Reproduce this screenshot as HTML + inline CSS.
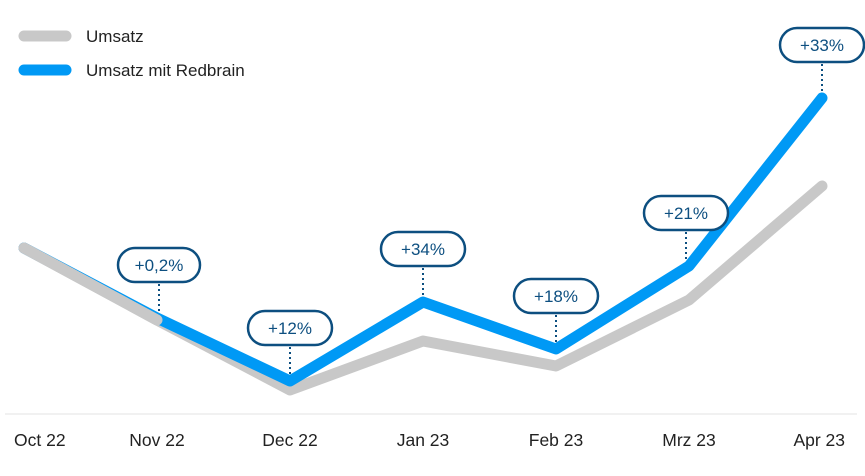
<!DOCTYPE html>
<html><head><meta charset="utf-8">
<style>
html,body{margin:0;padding:0;background:#fff;}
svg{display:block;font-family:"Liberation Sans",sans-serif;}
</style></head>
<body>
<svg id="chart" width="865" height="476" viewBox="0 0 865 476">
  <g>
    <g>
      <line x1="24" y1="36" x2="66" y2="36" stroke="#c8c8c8" stroke-width="11" stroke-linecap="round"/>
      <text x="86" y="42" font-size="17" fill="#222">Umsatz</text>
    </g>
    <g>
      <line x1="24" y1="70" x2="66" y2="70" stroke="#0099f5" stroke-width="11" stroke-linecap="round"/>
      <text x="86" y="76" font-size="17" fill="#222">Umsatz mit Redbrain</text>
    </g>
  </g>
  <line x1="5" y1="414" x2="857" y2="414" stroke="#e3e3e3" stroke-width="1"/>
  <g id="xlabels"></g>
  <g id="series"></g>
  <g id="annots"></g>
</svg>
<script>
const categories = ["Oct 22","Nov 22","Dec 22","Jan 23","Feb 23","Mrz 23","Apr 23"];
const umsatz = [166,94,24,73,48,114,228];
const umsatzRedbrain = [166,96,33,112,65,148,316];
const changeLabels = [null,"+0,2%","+12%","+34%","+18%","+21%","+33%"];

const NS="http://www.w3.org/2000/svg";
const x0=24, x1=822, baseY=414;
function xScale(i){return x0+(x1-x0)*i/(categories.length-1);}
function yScale(v){return baseY-v;}
function mk(tag,attrs,parent){const e=document.createElementNS(NS,tag);for(const k in attrs)e.setAttribute(k,attrs[k]);parent.appendChild(e);return e;}

const xl=document.getElementById('xlabels');
const n=categories.length;
categories.forEach((c,i)=>{
  let x=xScale(i), anchor='middle';
  if(i===0){x=14;anchor='start';}
  else if(i===n-1){x=845;anchor='end';}
  const t=mk('text',{x:x,y:446,'font-size':17.5,fill:'#222','text-anchor':anchor},xl);
  
  
  t.textContent=c;
});
const sg=document.getElementById('series');
function line(vals,color,w,name){
  const p=mk('polyline',{points:vals.map((v,i)=>xScale(i)+','+yScale(v)).join(' '),fill:'none',stroke:color,'stroke-width':w,'stroke-linecap':'round','stroke-linejoin':'round'},sg);
  
  
}
line(umsatz,'#c8c8c8',11,'umsatz-line');
line(umsatzRedbrain,'#0099f5',11,'umsatz-redbrain-line');
line(umsatz.slice(0,2),'#c8c8c8',11,'umsatz-line-overlap');

const ag=document.getElementById('annots');
changeLabels.forEach((lab,i)=>{
  if(!lab)return;
  const cx=xScale(i)-(i===1?-2:i===5?3:0), py=yScale(umsatzRedbrain[i]);
  const bottom=py-36, h=34, w=lab.length>4?82:84;
  const g=mk('g',{},ag);
  
  
  mk('line',{x1:cx,y1:bottom+2,x2:cx,y2:py-4,stroke:'#0d4f80','stroke-width':2,'stroke-dasharray':'2 3'},g);
  mk('rect',{x:cx-w/2,y:bottom-h,width:w,height:h,rx:17,fill:'#fff',stroke:'#0d4f80','stroke-width':2.5},g);
  const t=mk('text',{x:cx,y:bottom-h/2+6,'font-size':17,fill:'#0d4f80','text-anchor':'middle'},g);
  t.textContent=lab;
});
</script>
</body></html>
